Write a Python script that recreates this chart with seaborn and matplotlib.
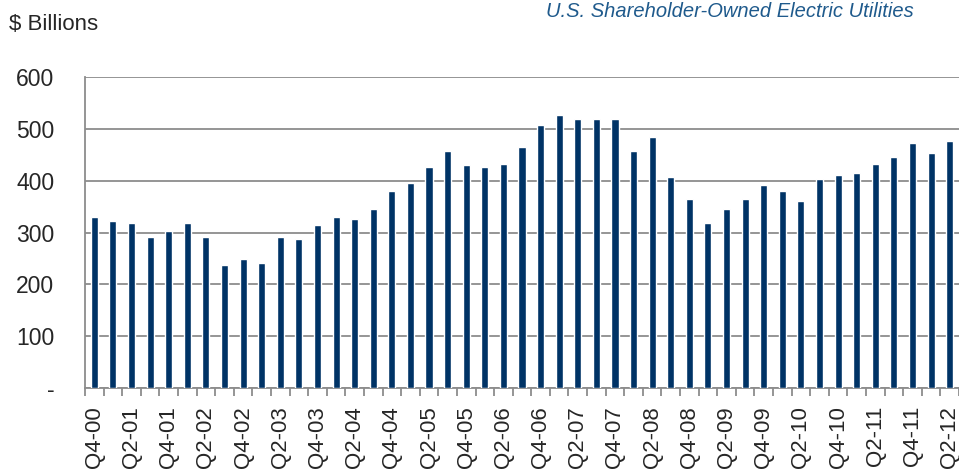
import numpy as np
import pandas as pd
import matplotlib
matplotlib.use("Agg")
import matplotlib.pyplot as plt
import seaborn as sns

# quarterly values, $ billions
quarters = (["Q4-00"]
            + [f"Q{q}-{y:02d}" for y in range(1, 12) for q in range(1, 5)]
            + ["Q1-12", "Q2-12"])
values = [329, 322, 318, 291, 302, 318, 291, 237, 248, 241,
          291, 287, 314, 329, 326, 345, 380, 395, 426, 457,
          430, 426, 433, 465, 507, 527, 519, 519, 519, 457,
          484, 407, 364, 318, 345, 364, 391, 380, 360, 403,
          411, 414, 433, 445, 472, 453, 476]
yticks = [0, 100, 200, 300, 400, 500, 600]
ytick_labels = ["-", "100", "200", "300", "400", "500", "600"]

bar_color = "#003366"
grid_color = "#8c8c8c"

sns.set_style("white")
plt.rcParams["font.family"] = ["Liberation Sans", "DejaVu Sans"]

df = pd.DataFrame({"quarter": quarters, "value": values})

fig = plt.figure(figsize=(9.59, 4.72), dpi=100)
ax = fig.add_axes([85 / 959, 1 - 388 / 472, 1 - 85 / 959, (388 - 77) / 472])

sns.barplot(data=df, x="quarter", y="value", color=bar_color,
            width=0.38, saturation=1, ax=ax, zorder=3)

ax.set_xlim(-0.5, len(quarters) - 0.5)
ax.set_ylim(0, 600)
ax.set_yticks(yticks)
ax.set_yticklabels(ytick_labels, fontsize=16.5)
ax.yaxis.grid(True, color=grid_color, linewidth=1.3, zorder=0)
ax.tick_params(axis="y", length=8, width=1.3, color=grid_color, pad=14)

# labels on every other bar, tick marks between the bars
ax.set_xticks(np.arange(0, len(quarters), 2))
ax.set_xticklabels(quarters[::2], rotation=90, fontsize=16)
ax.set_xticks(np.arange(-0.5, len(quarters), 1), minor=True)
ax.tick_params(axis="x", which="major", length=0, pad=13)
ax.tick_params(axis="x", which="minor", length=6, width=1.3,
               color=grid_color, bottom=True)
ax.set_xlabel("")
ax.set_ylabel("")

for side in ["top", "right"]:
    ax.spines[side].set_visible(False)
for side in ["left", "bottom"]:
    ax.spines[side].set_color(grid_color)
    ax.spines[side].set_linewidth(1.3)

fig.text(9 / 959, 1 - 25 / 472, "$ Billions", fontsize=16, va="center")
fig.text(730 / 959, 1 - 2 / 472, "U.S. Shareholder-Owned Electric Utilities",
         fontsize=14.5, style="italic", color="#1f5a8c", ha="center", va="top")

fig.savefig("out.png", dpi=100)
